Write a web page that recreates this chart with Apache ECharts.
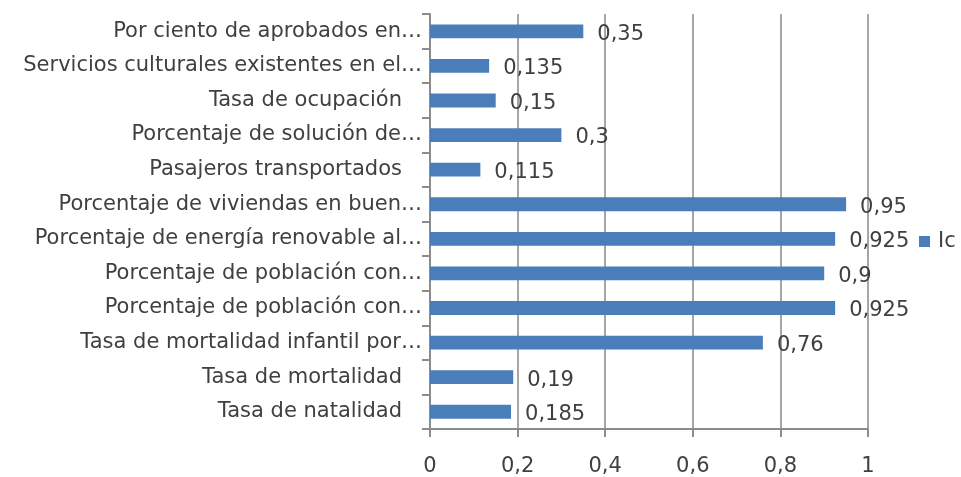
<!DOCTYPE html>
<html>
<head>
<meta charset="utf-8">
<script src="https://cdn.jsdelivr.net/npm/echarts@6/dist/echarts.min.js"></script>
<style>
  html, body { margin: 0; padding: 0; background: #fff; }
  #chart { width: 961px; height: 477px; }
</style>
</head>
<body>
<div id="chart"></div>
<script>
// categories listed bottom to top (category axis starts at the bottom)
const categories = [
  'Tasa de natalidad   ',
  'Tasa de mortalidad   ',
  'Tasa de mortalidad infantil por…',
  'Porcentaje de población con…',
  'Porcentaje de población con…',
  'Porcentaje de energía renovable al…',
  'Porcentaje de viviendas en buen…',
  'Pasajeros transportados   ',
  'Porcentaje de solución de…',
  'Tasa de ocupación   ',
  'Servicios culturales existentes en el…',
  'Por ciento de aprobados en…'
]
const icValues = [0.185, 0.19, 0.76, 0.925, 0.9, 0.925, 0.95, 0.115, 0.3, 0.15, 0.135, 0.35]
const xTicks = [0, 0.2, 0.4, 0.6, 0.8, 1]
const seriesName = 'Ic'

const FONT = 'DejaVu Sans'
const FS = 21
const TEXT = '#404040'
const GRID = '#a6a6a6'
const AXIS = '#8c8c8c'

const comma = v => String(v).replace('.', ',')

const chart = echarts.init(document.getElementById('chart'))

chart.setOption({
  animation: false,
  textStyle: { fontFamily: FONT },
  grid: {
    left: 430,
    top: 14,
    right: 93,
    bottom: 48,
    outerBoundsMode: 'none'
  },
  legend: {
    data: [seriesName],
    left: 919,
    top: 231,
    padding: 0,
    itemWidth: 11,
    itemHeight: 11,
    icon: 'rect',
    textStyle: { fontFamily: FONT, fontSize: FS, color: TEXT, padding: [0, 0, 0, 3] }
  },
  xAxis: {
    type: 'value',
    min: xTicks[0],
    max: xTicks[xTicks.length - 1],
    interval: 0.2,
    axisLine: { show: true, lineStyle: { color: AXIS, width: 2 } },
    axisTick: { show: true, length: 8, lineStyle: { color: AXIS, width: 2 } },
    splitLine: { show: true, lineStyle: { color: GRID, width: 2 } },
    axisLabel: {
      margin: 27,
      fontSize: FS,
      color: TEXT,
      fontFamily: FONT,
      formatter: v => comma(v)
    }
  },
  yAxis: {
    type: 'category',
    data: categories,
    axisLine: { show: true, lineStyle: { color: AXIS, width: 2 } },
    axisTick: { show: true, length: 8, lineStyle: { color: AXIS, width: 2 } },
    axisLabel: {
      margin: 8,
      fontSize: FS,
      color: TEXT,
      fontFamily: FONT
    }
  },
  series: [
    {
      name: seriesName,
      type: 'bar',
      data: icValues,
      barWidth: '40%',
      itemStyle: { color: '#4a7ebb' },
      label: {
        show: true,
        position: 'right',
        distance: 14,
        offset: [0, 3],
        fontSize: FS,
        color: TEXT,
        fontFamily: FONT,
        formatter: p => comma(p.value)
      }
    }
  ]
})
</script>
</body>
</html>
